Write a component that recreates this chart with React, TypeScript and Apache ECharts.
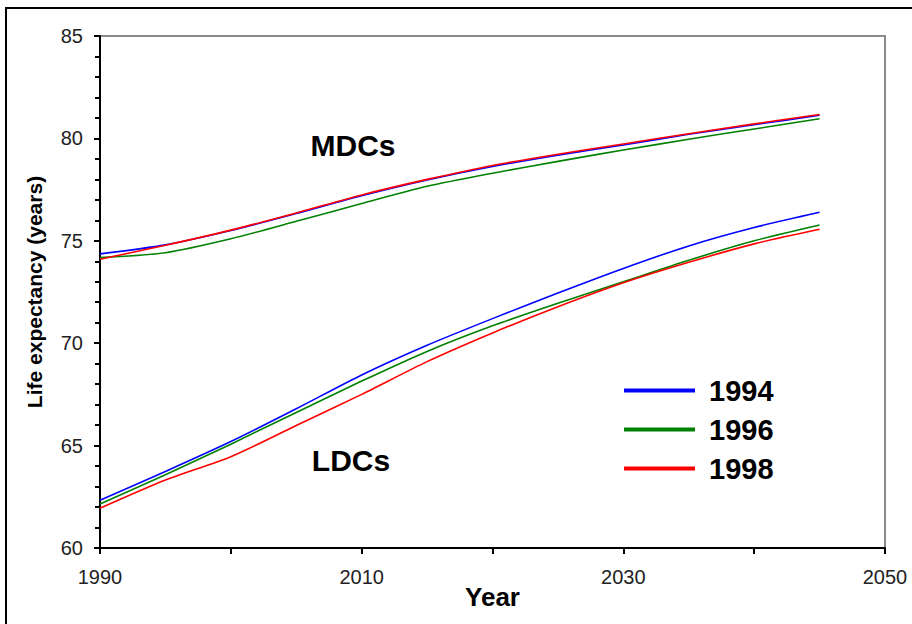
import React, { useEffect, useRef } from "react";
import * as echarts from "echarts";

const years = [1990, 1995, 2000, 2005, 2010, 2015, 2020, 2025, 2030, 2035, 2040, 2045];

const mdc1994 = [74.36, 74.8, 75.5, 76.33, 77.2, 77.97, 78.63, 79.18, 79.68, 80.2, 80.67, 81.13];
const mdc1996 = [74.18, 74.42, 75.1, 75.95, 76.82, 77.66, 78.3, 78.88, 79.43, 79.96, 80.46, 80.96];
const mdc1998 = [74.1, 74.78, 75.52, 76.36, 77.24, 78.0, 78.68, 79.23, 79.73, 80.23, 80.71, 81.17];

const ldc1994 = [62.33, 63.74, 65.2, 66.8, 68.45, 69.9, 71.2, 72.45, 73.65, 74.75, 75.65, 76.39];
const ldc1996 = [62.15, 63.58, 65.07, 66.62, 68.15, 69.6, 70.85, 71.95, 73.0, 74.05, 75.0, 75.77];
const ldc1998 = [61.94, 63.32, 64.46, 65.98, 67.5, 69.1, 70.5, 71.78, 72.95, 73.95, 74.85, 75.56];

const legendNames = ["1994", "1996", "1998"];
const colors = ["#0000ff", "#008000", "#ff0000"];
const groupLabels = ["MDCs", "LDCs"];

const FONT = "'Liberation Sans', Arial, sans-serif";

export default function App() {
  const ref = useRef<HTMLDivElement>(null);
  useEffect(() => {
    if (!ref.current) return;
    const chart = echarts.init(ref.current, undefined, { renderer: "svg" });
    const mk = (name: string, vals: number[], color: string) => ({
      name,
      type: "line",
      data: years.map((y, i) => [y, vals[i]]),
      showSymbol: false,
      smooth: 0.25,
      lineStyle: { color, width: 1.6 },
      itemStyle: { color },
      z: 3,
    });
    chart.setOption({
      animation: false,
      backgroundColor: "#ffffff",
      textStyle: { fontFamily: FONT },
      grid: {
        left: 100,
        top: 36,
        right: 27,
        bottom: 76,
        show: true,
        borderColor: "#8a8a8a",
        borderWidth: 2,
        backgroundColor: "transparent",
      },
      legend: {
        data: legendNames,
        orient: "vertical",
        left: 619,
        top: 371,
        icon: "rect",
        itemWidth: 71,
        itemHeight: 4,
        itemGap: 10,
        selectedMode: false,
        textStyle: {
          fontFamily: FONT,
          fontSize: 29,
          fontWeight: "bold",
          color: "#000",
          padding: [0, 0, 0, 9],
        },
      },
      xAxis: {
        type: "value",
        min: 1990,
        max: 2050,
        interval: 10,
        name: "Year",
        nameLocation: "middle",
        nameGap: 36,
        nameMoveOverlap: false,
        nameTextStyle: { fontFamily: FONT, fontSize: 26, fontWeight: "bold", color: "#000" },
        axisLine: { show: true, lineStyle: { color: "#000", width: 2 } },
        axisTick: { show: true, length: 6, lineStyle: { color: "#000", width: 2 } },
        axisLabel: {
          fontFamily: FONT,
          fontSize: 20,
          color: "#222",
          margin: 19,
          formatter: (v: number) => ((v - 1990) % 20 === 0 ? String(v) : ""),
        },
        splitLine: { show: false },
      },
      yAxis: {
        type: "value",
        min: 60,
        max: 85,
        interval: 5,
        name: "Life expectancy (years)",
        nameLocation: "middle",
        nameGap: 55,
        nameRotate: 90,
        nameTextStyle: { fontFamily: FONT, fontSize: 21, fontWeight: "bold", color: "#000" },
        axisLine: { show: true, lineStyle: { color: "#000", width: 2 } },
        axisTick: { show: true, length: 6, lineStyle: { color: "#000", width: 2 } },
        minorTick: { show: true, splitNumber: 5, length: 5, lineStyle: { color: "#000", width: 2 } },
        axisLabel: { fontFamily: FONT, fontSize: 20, color: "#222", margin: 17 },
        splitLine: { show: false },
      },
      graphic: [
        {
          type: "rect",
          shape: { x: 6, y: 8, width: 1200, height: 1000 },
          style: { fill: "transparent", stroke: "#000", lineWidth: 2 },
          silent: true,
        },
        {
          type: "text",
          x: 353,
          y: 145,
          style: {
            text: groupLabels[0],
            font: `bold 30px ${FONT}`,
            fill: "#000",
            align: "center",
            verticalAlign: "middle",
          },
        },
        {
          type: "text",
          x: 351,
          y: 460,
          style: {
            text: groupLabels[1],
            font: `bold 30px ${FONT}`,
            fill: "#000",
            align: "center",
            verticalAlign: "middle",
          },
        },
      ],
      series: [
        mk(legendNames[0], mdc1994, colors[0]),
        mk(legendNames[1], mdc1996, colors[1]),
        mk(legendNames[2], mdc1998, colors[2]),
        mk(legendNames[0], ldc1994, colors[0]),
        mk(legendNames[1], ldc1996, colors[1]),
        mk(legendNames[2], ldc1998, colors[2]),
      ],
    });
    return () => chart.dispose();
  }, []);
  return (
    <div
      ref={ref}
      style={{ position: "fixed", left: 0, top: 0, width: 912, height: 624, background: "#fff" }}
    />
  );
}
